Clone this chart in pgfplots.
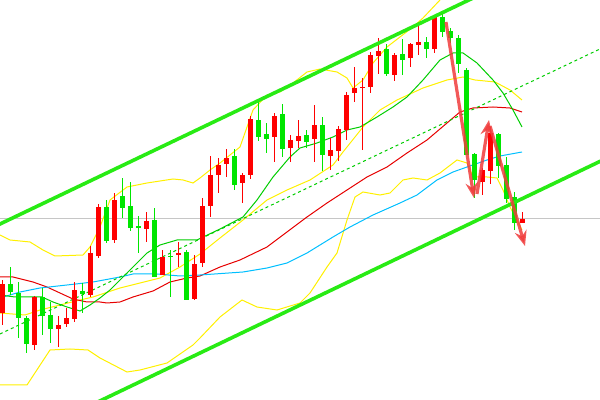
\documentclass[border=0pt]{standalone}
\usepackage{pgfplots}
\usepackage{pgfplotstable}
\pgfplotsset{compat=1.18}
\usetikzlibrary{arrows.meta}

\definecolor{cgreen}{RGB}{0,230,0}
\definecolor{cred}{RGB}{255,0,0}
\definecolor{chan}{RGB}{40,235,20}
\definecolor{mablue}{RGB}{0,191,255}
\definecolor{mared}{RGB}{230,0,0}
\definecolor{magreen}{RGB}{0,205,0}
\definecolor{byellow}{RGB}{255,240,0}
\definecolor{arr}{RGB}{240,60,60}

% candles: index, body top, body bottom, wick top, wick bottom (screen units, y down)
\pgfplotstableread{
i bt bb wt wb
0 284 313 280 325
4 297 345 296 350
7 325 329 316 347
8 318 324 308 327
9 290 319 282 322
11 253 295 246 297
12 207 256 204 258
14 200 240 193 243
18 221 229 212 242
20 257 275 250 275
22 253 255 242 267
24 264 299 255 300
25 206 263 198 267
26 175 206 156 217
27 165 175 158 193
28 158 164 149 177
30 175 183 173 203
31 119 175 116 179
34 116 137 113 162
36 140 148 135 162
37 136 141 120 148
39 125 139 105 162
41 150 156 138 170
42 129 151 126 161
43 95 130 92 140
44 88 93 67 102
45 87 88 78 150
46 55 87 52 93
47 51 56 38 74
49 55 75 53 81
51 44 58 43 67
52 42 45 25 55
54 17 49 15 53
60 170 182 168 195
61 133 171 127 184
65 219 223 212 223
}\redc

\pgfplotstableread{
i bt bb wt wb
1 284 292 267 295
2 293 318 282 338
3 318 344 316 353
5 297 316 288 335
6 315 329 302 343
10 291 294 283 313
13 207 241 200 243
15 196 208 178 218
16 206 228 182 231
17 226 228 216 253
19 220 277 208 277
21 256 257 250 297
23 252 300 250 300
29 156 185 149 190
32 120 137 100 141
33 134 139 123 153
35 114 149 104 157
38 135 142 130 148
40 125 155 117 171
48 49 74 44 76
50 54 60 39 75
53 42 49 37 58
55 17 32 11 37
56 31 38 28 43
57 38 64 35 73
58 70 155 68 155
59 154 180 153 198
62 134 166 133 178
63 165 199 157 203
64 197 223 192 230
}\greenc

\pgfplotsset{
  candle/.style 2 args={only marks, mark options={opacity=0},
    error bars/.cd, y dir=both, y explicit, error mark=none,
    error bar style={draw=#1, line width=#2, opacity=1}},
}

\begin{document}
\begin{tikzpicture}
\begin{axis}[
  at={(0,0)}, anchor=south west,
  scale only axis, width=15cm, height=10cm,
  xmin=0, xmax=600, ymin=0, ymax=400,
  y dir=reverse,
  hide axis, clip=true,
]
% horizontal price level
\addplot[color=gray!45, line width=0.025cm] coordinates {(0,219) (600,219)};

% Bollinger bands
\addplot[byellow, line width=0.025cm] coordinates {
(0,235) (10,240) (30,242) (43,250) (55,256) (83,255) (90,247) (100,227)
(110,200) (127,187) (147,183) (173,179) (183,180) (193,183) (200,178)
(210,170) (220,163) (240,147) (253,110) (267,95) (280,92) (293,83)
(307,72) (320,69) (337,72) (347,78) (353,88) (363,80) (373,63) (387,47)
(400,37) (413,27) (423,18) (440,0) (460,-30) (522,-50)};
\addplot[byellow, line width=0.025cm] coordinates {
(0,313) (25,315) (40,310) (60,305) (80,300) (93,297) (120,288) (140,283)
(160,278) (180,267) (200,254) (220,238) (243,220) (267,200) (287,190)
(310,180) (333,165) (343,152) (363,127) (380,110) (397,100) (423,88)
(447,80) (463,77) (475,80) (495,82) (510,90) (522,100)};
\addplot[byellow, line width=0.025cm] coordinates {
(0,385) (27,385) (50,350) (70,349) (88,350) (100,358) (127,372) (140,370)
(167,363) (193,345) (200,338) (220,317) (242,300) (257,307) (277,310)
(300,303) (310,293) (327,267) (337,253) (347,220) (355,197) (363,192)
(380,195) (390,193) (403,180) (413,178) (427,180) (440,173) (457,160)
(467,163) (473,177) (487,177) (497,178) (503,190) (510,207) (517,220)
(522,230)};

% moving averages
\addplot[mared, line width=0.025cm] coordinates {
(0,277) (13,277) (33,282) (47,287) (60,293) (73,299) (87,302) (100,302)
(107,303) (120,302) (133,297) (153,291) (170,282) (187,278) (200,276)
(220,267) (240,260) (267,247) (287,232) (307,217) (327,203) (347,190)
(367,177) (387,167) (407,153) (427,140) (447,123) (460,112) (473,108)
(493,107) (510,108) (522,112)};
\addplot[mablue, line width=0.025cm] coordinates {
(0,298) (20,292) (40,288) (67,285) (93,282) (120,277) (133,274) (157,274)
(180,276) (200,275) (243,272) (267,268) (287,263) (307,253) (333,237)
(350,227) (373,215) (400,203) (417,195) (437,180) (453,172) (467,167)
(487,160) (500,156) (522,152)};
\addplot[magreen, line width=0.025cm] coordinates {
(0,295) (15,297) (42,297) (53,302) (67,307) (80,311) (90,305) (100,298)
(110,290) (127,273) (147,253) (160,245) (177,240) (197,240) (220,229)
(243,217) (257,200) (273,177) (290,157) (300,148) (317,143) (333,137)
(347,130) (360,127) (377,117) (393,107) (407,97) (423,80) (440,60)
(453,53) (463,53) (477,63) (493,80) (503,93) (513,110) (522,127)};

% channel middle line
\addplot[magreen, line width=0.025cm, dash pattern=on 0.075cm off 0.075cm]
  coordinates {(0,334) (600,49)};

% candle wicks
\addplot[candle={cred}{0.025cm}]
  table[x expr=2.5+8*\thisrow{i}, y expr=(\thisrow{wt}+\thisrow{wb})/2,
        y error expr=(\thisrow{wb}-\thisrow{wt})/2] {\redc};
\addplot[candle={cgreen}{0.025cm}]
  table[x expr=2.5+8*\thisrow{i}, y expr=(\thisrow{wt}+\thisrow{wb})/2,
        y error expr=(\thisrow{wb}-\thisrow{wt})/2] {\greenc};
% candle bodies
\addplot[candle={cred}{0.125cm}]
  table[x expr=2.5+8*\thisrow{i}, y expr=(\thisrow{bt}+\thisrow{bb})/2,
        y error expr={max((\thisrow{bb}-\thisrow{bt})/2,0.8)}] {\redc};
\addplot[candle={cgreen}{0.125cm}]
  table[x expr=2.5+8*\thisrow{i}, y expr=(\thisrow{bt}+\thisrow{bb})/2,
        y error expr={max((\thisrow{bb}-\thisrow{bt})/2,0.8)}] {\greenc};

% trend channel
\addplot[chan, line width=0.09cm] coordinates {(-5,226.4) (480,-5.3)};
\addplot[chan, line width=0.09cm] coordinates {(90,405.7) (605,159)};

% arrows
\addplot[arr, opacity=0.85, line width=0.08cm, -{Stealth[length=0.38cm,width=0.3cm]}]
  coordinates {(446,22) (474,198)};
\addplot[arr, opacity=0.85, line width=0.08cm, -{Stealth[length=0.38cm,width=0.3cm]}]
  coordinates {(477,194) (489,120)};
\addplot[arr, opacity=0.85, line width=0.08cm, -{Stealth[length=0.38cm,width=0.3cm]}]
  coordinates {(490,126) (525,246)};
\end{axis}
\pgfresetboundingbox
\useasboundingbox (current axis.south west) rectangle (current axis.north east);
\end{tikzpicture}
\end{document}
